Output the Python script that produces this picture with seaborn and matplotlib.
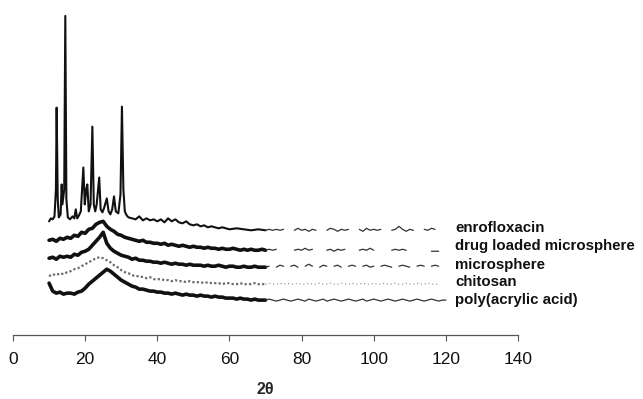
import numpy as np
import pandas as pd
import matplotlib
matplotlib.use("Agg")
import matplotlib.pyplot as plt
import seaborn as sns

# ---------------- data (arbitrary intensity units, stacked traces) ----------------
grid_x = list(range(10, 71))          # 2theta, degrees, 1-degree steps
right_x = list(range(70, 121))        # far-angle part, 1-degree steps

enro_x = [10, 10.5, 11, 11.5, 11.9, 12.1, 12.4, 12.7, 13.2, 13.5, 13.7, 14.2, 14.5, 14.8,
          15.2, 15.8, 16.5, 17.0, 17.4, 17.8, 18.3, 18.8, 19.5, 19.9, 20.3, 20.6, 21.0,
          21.5, 22.0, 22.4, 22.8, 23.2, 23.9, 24.3, 24.8, 25.3, 26.0, 26.5, 27.0, 27.5,
          28.0, 28.5, 29.2, 29.8, 30.2, 30.6, 31.0, 31.5, 32,
          33, 34, 35, 36, 37, 38, 39, 40, 41, 42, 43, 44, 45, 46, 47, 48, 49, 50,
          51, 52, 53, 54, 55, 56, 57, 58, 59, 60, 62, 64, 66, 68, 70]
enro_y = [114, 117, 116, 119, 146, 228, 136, 118, 121, 151, 131, 146, 320, 136,
          118, 116, 119, 117, 126, 117, 120, 124, 168, 131, 146, 151, 124,
          131, 209, 131, 124, 131, 158, 126, 123, 128, 137, 124, 121, 126,
          139, 124, 122, 141, 229, 146, 124, 120, 118,
          117, 116, 119, 115, 117, 115, 116, 114, 116, 113, 117, 114, 116, 113, 112, 114, 111, 110,
          111, 109, 110, 108, 109, 108, 107, 108, 107, 106, 107, 106, 105, 106, 105]

drug_y = [95, 96, 94, 97, 96, 98, 97, 100, 99, 103,
          102, 106, 107, 111, 113, 114, 109, 106, 104, 101,
          100, 98, 97, 96, 95, 94, 95, 93, 93, 92,
          92, 91, 92, 90, 91, 90, 89, 90, 89, 88,
          89, 88, 88, 87, 88, 87, 87, 86, 87, 86,
          86, 87, 86, 85, 86, 85, 86, 85, 85, 86, 85]

micro_y = [77, 78, 76, 79, 78, 79, 78, 81, 80, 83,
           84, 86, 90, 94, 98, 103, 92, 87, 84, 82,
           80, 79, 78, 76, 77, 75, 75, 74, 74, 73,
           73, 72, 73, 72, 71, 72, 71, 71, 70, 71,
           70, 70, 70, 69, 70, 69, 69, 70, 69, 68,
           69, 69, 68, 68, 69, 68, 68, 69, 68, 68, 68]

chito_y = [59, 61, 60, 62, 61, 63, 64, 66, 67, 69,
           71, 73, 75, 77, 78, 77, 75, 73, 70, 68,
           65, 63, 62, 60, 59, 59, 58, 57, 58, 56,
           56, 56, 55, 55, 54, 55, 54, 54, 53, 54,
           53, 53, 53, 52, 53, 52, 52, 52, 51, 52,
           52, 51, 51, 52, 51, 51, 51, 52, 51, 51, 51]

paa_y = [52, 44, 42, 43, 41, 42, 42, 41, 43, 44,
         47, 51, 54, 57, 60, 63, 66, 64, 61, 58,
         55, 53, 51, 49, 48, 46, 46, 45, 44, 44,
         43, 43, 42, 42, 41, 42, 41, 40, 41, 40,
         40, 39, 40, 39, 39, 38, 39, 38, 38, 37,
         37, 37, 36, 37, 36, 36, 35, 36, 35, 35, 35]

nan = np.nan
enro_right = [105, 106, 105, 106, 105, 106, nan, nan, 105, 107, 105, 106, 104, 106, 105,
              nan, nan, 105, 107, 106, 104, 106, 105, 106, nan, nan, 106, 104, 107, 105,
              106, 105, 106, nan, nan, 105, 106, 109, 106, 104, 106, 105, nan, nan, 106,
              105, 107, 106, nan, nan, nan]
drug_right = [85, 86, 85, 86, nan, nan, nan, nan, 85, 86, 85, 87, 85, 86, nan, nan,
              nan, 85, 86, 84, 86, 85, 86, nan, nan, nan, 85, 86, 85, 87, 85, nan,
              nan, nan, nan, 85, 86, 85, 86, 85, nan, nan, nan, nan, nan, nan, 84,
              84, 84, nan, nan]
micro_right = [68, 69, nan, 68, 70, 69, nan, 69, 70, 68, nan, 69, 71, 69, nan, 68,
               70, 69, nan, 69, 70, 68, nan, 69, 70, 69, nan, 69, 70, 68, 69, nan,
               69, 70, 69, 68, nan, 69, 70, 69, 68, nan, 69, 70, 69, nan, 69, 70,
               69, nan, nan]
chito_right = [51, 52, 51, 51, 52, 51, 52, 51, 51, 52, 51, 51, 52, 51, 51, 52, 51,
               51, 52, 51, 51, 52, 51, 51, 52, 51, 51, 52, 51, 51, 52, 51, 51, 52,
               51, 51, 52, 51, 51, 52, 51, 51, 52, 51, 51, 52, 51, 51, 51, nan, nan]
paa_right = [35, 36, 35, 34, 35, 36, 35, 34, 35, 36, 35, 34, 36, 35, 34, 35, 36,
             34, 35, 36, 35, 34, 35, 36, 35, 34, 35, 36, 34, 35, 36, 35, 34, 35,
             36, 35, 34, 35, 36, 35, 34, 35, 36, 35, 34, 35, 36, 35, 34, 35, 35]

labels = ["enrofloxacin", "drug loaded microsphere", "microsphere", "chitosan",
          "poly(acrylic acid)"]
label_y = [107, 89, 70, 53, 35]
x_ticks = [0, 20, 40, 60, 80, 100, 120, 140]

# ---------------- plot ----------------
sns.set_theme(style="white")
plt.rcParams["font.family"] = ["Liberation Sans", "DejaVu Sans"]

fig = plt.figure(figsize=(6.43, 3.99), dpi=100)
ax = fig.add_axes([13 / 643, 64 / 399, 505 / 643, 335 / 399])

black = "#111111"
sns.lineplot(x=enro_x, y=enro_y, ax=ax, color=black, lw=1.5, estimator=None)
sns.lineplot(x=grid_x, y=drug_y, ax=ax, color=black, lw=2.6, estimator=None)
sns.lineplot(x=grid_x, y=micro_y, ax=ax, color=black, lw=2.6, estimator=None)
sns.lineplot(x=grid_x, y=chito_y, ax=ax, color="#6a6a6a", lw=1.6, estimator=None,
             linestyle=(0, (1, 1)))
sns.lineplot(x=grid_x, y=paa_y, ax=ax, color=black, lw=2.6, estimator=None)

ax.plot(right_x, enro_right, color="#333333", lw=0.9)
ax.plot(right_x, drug_right, color="#333333", lw=0.9)
ax.plot(right_x, micro_right, color="#333333", lw=0.9)
ax.plot(right_x, chito_right, color="#888888", lw=0.8, linestyle=(0, (1, 2.5)))
ax.plot(right_x, paa_right, color="#333333", lw=0.9)

for lab, ly in zip(labels, label_y):
    ax.text(122.5, ly, lab, fontsize=10.8, fontweight="bold", va="center", ha="left",
            color=black)

ax.set_xlim(0, 140)
ax.set_ylim(0, 336)
ax.set_xticks(x_ticks)
ax.set_yticks([])
ax.set_xlabel("2θ", fontsize=11.5, fontweight="bold", labelpad=11)
ax.set_ylabel("")
for s in ["top", "right", "left"]:
    ax.spines[s].set_visible(False)
ax.spines["bottom"].set_color("#555555")
ax.spines["bottom"].set_linewidth(0.9)
ax.tick_params(axis="x", direction="out", length=4, width=0.8, color="#555555",
               labelsize=12.5, pad=8, labelcolor=black, bottom=True)

fig.savefig("out.png", dpi=100)
